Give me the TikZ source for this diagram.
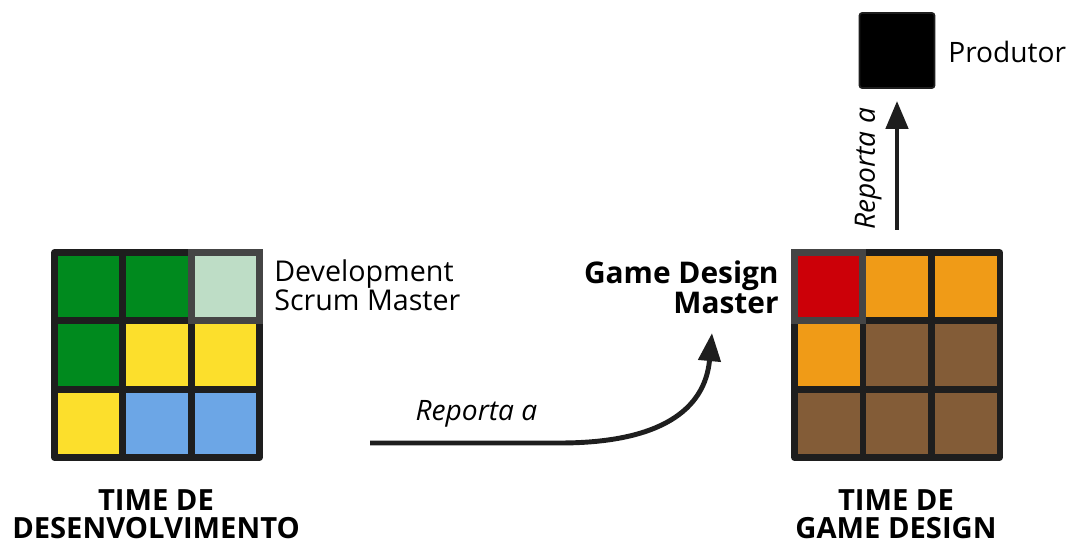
\documentclass[tikz,border=0pt]{standalone}
\usepackage{fontspec}
\setmainfont{Open Sans}
\usetikzlibrary{arrows.meta}

\definecolor{gridblack}{HTML}{1E1E1E}
\definecolor{mastergray}{HTML}{454545}
\definecolor{devgreen}{HTML}{008A1E}
\definecolor{palegreen}{HTML}{BEDDC6}
\definecolor{devyellow}{HTML}{FCDF2C}
\definecolor{devblue}{HTML}{6CA6E6}
\definecolor{gdred}{HTML}{CC0008}
\definecolor{gdorange}{HTML}{F09B17}
\definecolor{gdbrown}{HTML}{835C37}

\tikzset{
	teamgrid/.style={rectangle,fill=gridblack,rounded corners=2pt,minimum size=4.24cm,inner sep=0pt},
	cell/.style={rectangle,minimum size=1.24cm,inner sep=0pt},
	mastercell/.style={cell,draw=mastergray,line width=4pt,minimum size=1.37cm},
	reportarrow/.style={-{Triangle[width=12.5pt,length=16pt]},line width=2.8pt,draw=gridblack},
	roletext/.style={inner sep=0pt,font=\fontsize{16.3}{13}\selectfont},
	teamtext/.style={inner sep=0pt,align=center,font=\bfseries\fontsize{16.6}{16}\selectfont}
}

\begin{document}
\begin{tikzpicture}[x=0.02cm,y=-0.02cm]
	\useasboundingbox (0,0) rectangle (1072,543);

	% time de desenvolvimento
	\node[teamgrid] (devgrid) at (157,355) {};
	\foreach \col/\row/\c in {0/0/devgreen,1/0/devgreen,0/1/devgreen,1/1/devyellow,
		2/1/devyellow,0/2/devyellow,1/2/devblue,2/2/devblue}
		\node[cell,fill=\c] (dev-\col-\row) at (88.5+68.5*\col,286.5+68.5*\row) {};
	\node[mastercell,fill=palegreen] (devsm) at (225.5,286.5) {};
	\node[roletext,anchor=west,align=left] (devsmtext) at (274,285) {Development\\Scrum Master};
	\node[teamtext] (devteam) at (156,514) {TIME DE\\DESENVOLVIMENTO};

	% time de game design
	\node[teamgrid] (gdgrid) at (897,355) {};
	\foreach \col/\row/\c in {1/0/gdorange,2/0/gdorange,0/1/gdorange,1/1/gdbrown,
		2/1/gdbrown,0/2/gdbrown,1/2/gdbrown,2/2/gdbrown}
		\node[cell,fill=\c] (gd-\col-\row) at (828.5+68.5*\col,286.5+68.5*\row) {};
	\node[mastercell,fill=gdred] (gdm) at (828.5,286.5) {};
	\node[roletext,anchor=east,align=right,font=\bfseries\fontsize{17}{17}\selectfont] (gdmtext) at (779,287) {Game Design\\Master};
	\node[teamtext] (gdteam) at (896,514) {TIME DE\\GAME DESIGN};

	% produtor
	\node[rectangle,fill=black,draw=gridblack,line width=1pt,rounded corners=1.5pt,minimum size=1.5cm] (prod) at (897,50.5) {};
	\node[anchor=west,inner sep=0pt,font=\fontsize{16}{16}\selectfont] (prodtext) at (948,52) {Produtor};

	% reporta a
	\draw[reportarrow,shorten <=19*0.02cm,shorten >=12*0.02cm] (gdgrid.north) -- (prod.south)
		node[midway,sloped,above=4pt,font=\itshape\fontsize{16}{16}\selectfont] {Reporta a};
	\coordinate (repstart) at (370,443);
	\coordinate (repend) at (712,333);
	\draw[reportarrow] (repstart) -- (560,443)
		node[pos=0.56,above=4pt,font=\itshape\fontsize{16}{16}\selectfont] {Reporta a}
		.. controls (660,443) and (705,410) .. (repend);
\end{tikzpicture}
\end{document}
